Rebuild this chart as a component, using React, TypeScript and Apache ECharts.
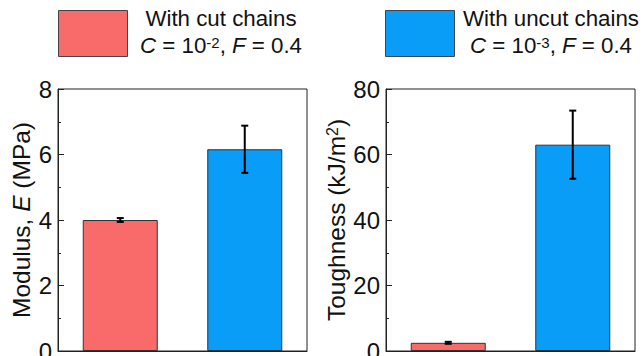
import React, { useEffect, useRef } from "react";
import * as echarts from "echarts";

const categories = ["With cut chains", "With uncut chains"];
const barColors = ["#F96B6B", "#0A9DF7"];
const modulus = [4.0, 6.16];
const modulusErr = [0.06, 0.72];
const toughness = [2.5, 63.0];
const toughnessErr = [0.3, 10.4];
const modulusAxis = { min: 0, max: 8, interval: 2 };
const toughnessAxis = { min: 0, max: 80, interval: 20 };
const legendLine2 = ["{i|C} = 10{sup|-2}, {i|F} = 0.4", "{i|C} = 10{sup|-3}, {i|F} = 0.4"];

const FONT = "'Liberation Sans', Arial, Helvetica, sans-serif";

export default function App() {
  const ref = useRef<HTMLDivElement>(null);
  useEffect(() => {
    if (!ref.current) return;
    const chart = echarts.init(ref.current, undefined, { renderer: "svg" });

    const grids = [
      { left: 58, top: 89, width: 249, height: 262 },
      { left: 386, top: 89, width: 249, height: 262 },
    ];

    const xAxisBase = (gi: number) => ({
      type: "category",
      gridIndex: gi,
      data: categories,
      boundaryGap: true,
      axisLine: { show: true, lineStyle: { color: "#222", width: 1 } },
      axisTick: { show: false },
      axisLabel: { show: false },
      splitLine: { show: false },
    });

    const textBase = { fontFamily: FONT, fontSize: 24, color: "#111" };

    const yAxisBase = (gi: number, ax: any, name: string, rich: any, gap: number) => ({
      type: "value",
      gridIndex: gi,
      min: ax.min,
      max: ax.max,
      interval: ax.interval,
      name,
      nameLocation: "middle",
      nameRotate: 90,
      nameGap: gap,
      nameTextStyle: { ...textBase, fontSize: 24.5, rich },
      axisLine: { show: true, lineStyle: { color: "#222", width: 1 } },
      axisTick: { show: true, inside: true, length: 6, lineStyle: { color: "#222", width: 1 } },
      minorTick: { show: true, splitNumber: 2, length: 3, lineStyle: { color: "#222", width: 1 } },
      axisLabel: { ...textBase, margin: 6 },
      splitLine: { show: false },
    });

    const richCommon = {
      i: { fontFamily: FONT, fontSize: 24.5, fontStyle: "italic", color: "#111" },
      sup: { fontFamily: FONT, fontSize: 16, color: "#111", verticalAlign: "top" },
    };

    const errSeries = (gi: number, vals: number[], errs: number[]) => ({
      type: "custom",
      xAxisIndex: gi,
      yAxisIndex: gi,
      z: 10,
      data: vals.map((v, i) => [i, v - errs[i], v + errs[i]]),
      renderItem: (params: any, api: any) => {
        const x = api.value(0);
        const lo = api.coord([x, api.value(1)]);
        const hi = api.coord([x, api.value(2)]);
        const hw = 3.5;
        const st = { stroke: "#000", lineWidth: 2 };
        return {
          type: "group",
          children: [
            { type: "line", shape: { x1: lo[0], y1: lo[1], x2: hi[0], y2: hi[1] }, style: st },
            { type: "line", shape: { x1: lo[0] - hw, y1: lo[1], x2: lo[0] + hw, y2: lo[1] }, style: st },
            { type: "line", shape: { x1: hi[0] - hw, y1: hi[1], x2: hi[0] + hw, y2: hi[1] }, style: st },
          ],
        };
      },
    });

    const barSeries = (gi: number, vals: number[]) => ({
      type: "bar",
      xAxisIndex: gi,
      yAxisIndex: gi,
      barWidth: 75,
      data: vals.map((v, i) => ({
        value: v,
        itemStyle: { color: barColors[i], borderColor: "#333", borderWidth: 1 },
      })),
    });

    const legendItems: any[] = [];
    const legendRects = [
      { x: 58, y: 10, w: 69, h: 46, cx: 221 },
      { x: 385, y: 10, w: 69, h: 46, cx: 551 },
    ];
    legendRects.forEach((r, i) => {
      legendItems.push({
        type: "rect",
        shape: { x: r.x + 0.5, y: r.y + 0.5, width: r.w, height: r.h },
        style: { fill: barColors[i], stroke: "#444", lineWidth: 1 },
      });
      legendItems.push({
        type: "text",
        x: r.cx,
        y: 18.7,
        style: {
          text: categories[i],
          fontFamily: FONT,
          fontSize: 22.3,
          fill: "#111",
          align: "center",
          verticalAlign: "middle",
        },
      });
      legendItems.push({
        type: "text",
        x: r.cx,
        y: 45.5,
        style: {
          text: legendLine2[i],
          fontFamily: FONT,
          fontSize: 22.3,
          fill: "#111",
          align: "center",
          verticalAlign: "middle",
          rich: {
            i: { fontFamily: FONT, fontSize: 22.3, fontStyle: "italic", fill: "#111" },
            sup: { fontFamily: FONT, fontSize: 15, fill: "#111", verticalAlign: "top" },
          },
        },
      });
    });

    chart.setOption({
      animation: false,
      backgroundColor: "#fff",
      grid: grids.map((g) => ({
        ...g,
        show: true,
        borderColor: "#222",
        borderWidth: 1,
        backgroundColor: "transparent",
        containLabel: false,
        outerBoundsMode: "none",
      })),
      xAxis: [xAxisBase(0), xAxisBase(1)],
      yAxis: [
        yAxisBase(0, modulusAxis, "Modulus, {i|E} (MPa)", richCommon, 24),
        yAxisBase(1, toughnessAxis, "Toughness (kJ/m{sup|2})", richCommon, 36),
      ],
      series: [
        barSeries(0, modulus),
        errSeries(0, modulus, modulusErr),
        barSeries(1, toughness),
        errSeries(1, toughness, toughnessErr),
      ],
      graphic: legendItems,
    });

    return () => chart.dispose();
  }, []);

  return (
    <div
      ref={ref}
      style={{ position: "absolute", left: 0, top: 0, width: 642, height: 356, background: "#fff" }}
    />
  );
}
